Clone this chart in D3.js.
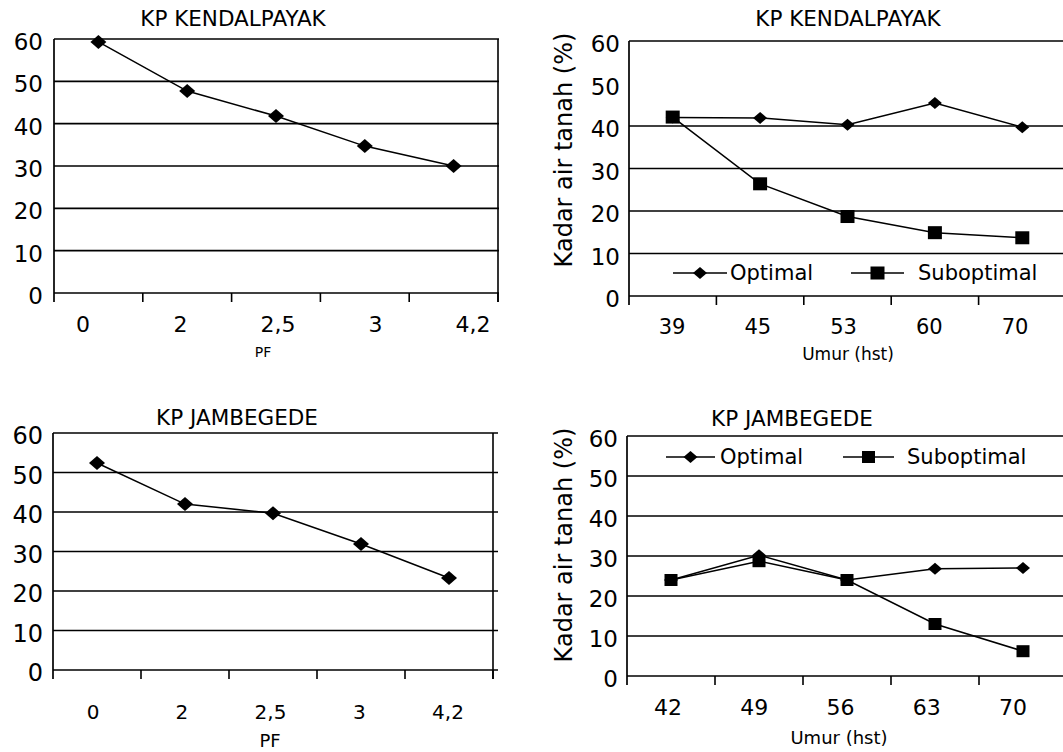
<!DOCTYPE html>
<html>
<head>
<meta charset="utf-8">
<script src="https://cdn.jsdelivr.net/npm/d3@7"></script>
<style>
  body { margin: 0; background: #fff; }
  svg { display: block; }
  text { font-family: "DejaVu Sans", sans-serif; fill: #000; }
</style>
</head>
<body>
<script>
// values
const pfCategories = ["0", "2", "2,5", "3", "4,2"];
const kendalpayakPF = [59.3, 47.7, 41.8, 34.7, 30.0];
const jambegedePF = [52.4, 42.0, 39.7, 31.9, 23.3];

const kendalpayakUmur = ["39", "45", "53", "60", "70"];
const kendalpayakOptimal = [42.0, 41.9, 40.3, 45.4, 39.7];
const kendalpayakSuboptimal = [42.1, 26.4, 18.7, 14.9, 13.7];

const jambegedeUmur = ["42", "49", "56", "63", "70"];
const jambegedeOptimal = [24.0, 30.2, 24.0, 26.8, 27.0];
const jambegedeSuboptimal = [24.0, 28.7, 24.0, 13.0, 6.2];

const yTicks = [0, 10, 20, 30, 40, 50, 60];
const seriesNames = ["Optimal", "Suboptimal"];

const svg = d3.select("body").append("svg")
    .attr("width", 1063)
    .attr("height", 752);

function diamondPath(w, h) {
    return `M0,${-h / 2}L${w / 2},0L0,${h / 2}L${-w / 2},0Z`;
}

function drawMarker(g, type, cx, cy, s) {
    if (type === "square") {
        g.append("rect")
            .attr("x", cx - s.w / 2).attr("y", cy - s.h / 2)
            .attr("width", s.w).attr("height", s.h)
            .attr("fill", "#000");
    } else {
        g.append("path")
            .attr("d", diamondPath(s.w, s.h))
            .attr("transform", `translate(${cx},${cy})`)
            .attr("fill", "#000");
    }
}

function drawPanel(p) {
    let g = svg.append("g");

    let x = d3.scaleBand().domain(p.categories).range([p.left, p.right]);
    let xLab = d3.scalePoint().domain(p.categories).range(p.labelRange);
    let y = d3.scaleLinear().domain([0, 60]).range([p.bottom, p.top]);

    // grid lines
    g.selectAll(".grid")
        .data(p.grid)
        .enter().append("line")
        .attr("x1", p.left).attr("x2", p.gridEnd)
        .attr("y1", d => y(d)).attr("y2", d => y(d))
        .attr("stroke", "#000").attr("stroke-width", 1.6);

    // frame: top, left, bottom, maybe right
    g.append("line")
        .attr("x1", p.left).attr("x2", p.gridEnd)
        .attr("y1", y(60)).attr("y2", y(60))
        .attr("stroke", "#000").attr("stroke-width", 1.6);
    g.append("line")
        .attr("x1", p.left).attr("x2", p.left)
        .attr("y1", y(60)).attr("y2", y(0) + 9)
        .attr("stroke", "#000").attr("stroke-width", 1.7);
    g.append("line")
        .attr("x1", p.left).attr("x2", p.gridEnd)
        .attr("y1", y(0)).attr("y2", y(0))
        .attr("stroke", "#000").attr("stroke-width", 1.7);
    if (p.rightBorder) {
        g.append("line")
            .attr("x1", p.right).attr("x2", p.right)
            .attr("y1", y(60)).attr("y2", y(0) + 9)
            .attr("stroke", "#000").attr("stroke-width", 1.6);
    }

    // ticks on band boundaries
    let bounds = p.categories.map(c => x(c)).concat([x.range()[1]]);
    g.selectAll(".tick")
        .data(bounds.slice(1))
        .enter().append("line")
        .attr("x1", d => d).attr("x2", d => d)
        .attr("y1", y(0)).attr("y2", y(0) + 9)
        .attr("stroke", "#000").attr("stroke-width", 1.6);

    // y labels
    g.selectAll(".ylab")
        .data(yTicks)
        .enter().append("text")
        .attr("x", p.yLabelX)
        .attr("y", d => y(d) + 3)
        .attr("text-anchor", "end")
        .attr("dominant-baseline", "central")
        .style("font-size", p.yFont + "px")
        .text(d => d);

    // x labels
    g.selectAll(".xlab")
        .data(p.categories)
        .enter().append("text")
        .attr("x", d => xLab(d))
        .attr("y", p.xLabelY)
        .attr("text-anchor", "middle")
        .attr("dominant-baseline", "central")
        .style("font-size", p.xFont + "px")
        .text(d => d);

    g.append("text")
        .attr("x", p.titleX).attr("y", p.titleY)
        .attr("text-anchor", "middle")
        .attr("dominant-baseline", "central")
        .style("font-size", "21.5px")
        .text(p.title);

    g.append("text")
        .attr("x", p.xTitleX).attr("y", p.xTitleY)
        .attr("text-anchor", "middle")
        .attr("dominant-baseline", "central")
        .style("font-size", p.xTitleFont + "px")
        .text(p.xTitle);

    if (p.yTitle) {
        g.append("text")
            .attr("transform", `translate(${p.yTitleX},${p.yTitleY}) rotate(-90)`)
            .attr("text-anchor", "middle")
            .attr("dominant-baseline", "central")
            .style("font-size", "24px")
            .text(p.yTitle);
    }

    let line = d3.line()
        .x((d, i) => x(p.categories[i]) + x.bandwidth() / 2)
        .y(d => y(d));

    p.series.forEach(s => {
        g.append("path")
            .datum(s.values)
            .attr("d", line)
            .attr("fill", "none")
            .attr("stroke", "#000")
            .attr("stroke-width", 1.5);
    });
    p.series.forEach(s => {
        s.values.forEach((v, i) => {
            drawMarker(g, s.marker, x(p.categories[i]) + x.bandwidth() / 2, y(v), s.size);
        });
    });

    if (p.legend) {
        p.legend.forEach((l, i) => {
            let s = p.series[i];
            g.append("line")
                .attr("x1", l.x1).attr("x2", l.x2)
                .attr("y1", l.y).attr("y2", l.y)
                .attr("stroke", "#000").attr("stroke-width", 1.5);
            drawMarker(g, s.marker, (l.x1 + l.x2) / 2, l.y, s.size);
            g.append("text")
                .attr("x", l.tx).attr("y", l.y)
                .attr("dominant-baseline", "central")
                .style("font-size", "21px")
                .text(seriesNames[i]);
        });
    }
}

// top left
drawPanel({
    categories: pfCategories,
    left: 54, right: 498, top: 39, bottom: 293, gridEnd: 499,
    grid: [10, 20, 30, 40, 50], rightBorder: true,
    labelRange: [83, 473],
    yLabelX: 43, yFont: 23, xLabelY: 324, xFont: 22,
    title: "KP KENDALPAYAK", titleX: 233, titleY: 18,
    xTitle: "PF", xTitleX: 263, xTitleY: 352, xTitleFont: 14,
    series: [{ values: kendalpayakPF, marker: "diamond", size: { w: 16, h: 14 } }]
});

// top right
drawPanel({
    categories: kendalpayakUmur,
    left: 629, right: 1066, top: 41, bottom: 296, gridEnd: 1063,
    grid: [10, 20, 30, 40], rightBorder: false,
    labelRange: [672, 1015],
    yLabelX: 620, yFont: 23, xLabelY: 327, xFont: 21,
    title: "KP KENDALPAYAK", titleX: 848, titleY: 18,
    xTitle: "Umur (hst)", xTitleX: 848, xTitleY: 354, xTitleFont: 17,
    yTitle: "Kadar air tanah (%)", yTitleX: 564, yTitleY: 150,
    series: [
        { values: kendalpayakOptimal, marker: "diamond", size: { w: 14, h: 12 } },
        { values: kendalpayakSuboptimal, marker: "square", size: { w: 14, h: 13 } }
    ],
    legend: [
        { x1: 673, x2: 727, y: 273, tx: 730 },
        { x1: 851, x2: 904, y: 273, tx: 918 }
    ]
});

// bottom left
drawPanel({
    categories: pfCategories,
    left: 53, right: 493, top: 433, bottom: 670, gridEnd: 498,
    grid: [10, 20, 30, 40, 50], rightBorder: true,
    labelRange: [93, 448],
    yLabelX: 43, yFont: 24, xLabelY: 712, xFont: 20,
    title: "KP JAMBEGEDE", titleX: 237, titleY: 417,
    xTitle: "PF", xTitleX: 270, xTitleY: 740, xTitleFont: 18,
    series: [{ values: jambegedePF, marker: "diamond", size: { w: 16, h: 14 } }]
});

// bottom right
drawPanel({
    categories: jambegedeUmur,
    left: 627, right: 1067, top: 436, bottom: 676, gridEnd: 1063,
    grid: [10, 20, 30, 40, 50], rightBorder: false,
    labelRange: [668, 1013],
    yLabelX: 618, yFont: 23, xLabelY: 707, xFont: 22,
    title: "KP JAMBEGEDE", titleX: 792, titleY: 418,
    xTitle: "Umur (hst)", xTitleX: 839, xTitleY: 737, xTitleFont: 18,
    yTitle: "Kadar air tanah (%)", yTitleX: 564, yTitleY: 545,
    series: [
        { values: jambegedeOptimal, marker: "diamond", size: { w: 14, h: 12 } },
        { values: jambegedeSuboptimal, marker: "square", size: { w: 13, h: 12 } }
    ],
    legend: [
        { x1: 666, x2: 715, y: 457, tx: 720 },
        { x1: 843, x2: 894, y: 457, tx: 907 }
    ]
});
</script>
</body>
</html>
